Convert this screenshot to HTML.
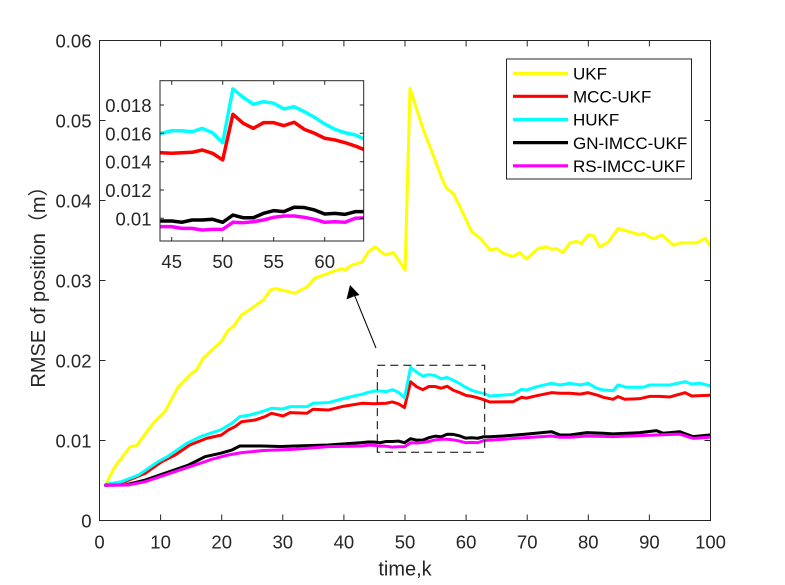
<!DOCTYPE html>
<html><head><meta charset="utf-8"><style>
html,body{margin:0;padding:0;background:#fff;}
svg{display:block;}
text{font-family:"Liberation Sans","Noto Sans CJK SC",sans-serif;fill:#262626;}
</style></head><body>
<svg width="785" height="585" viewBox="0 0 785 585" xmlns="http://www.w3.org/2000/svg">
<defs>
<clipPath id="cm"><rect x="99.5" y="40.5" width="611" height="480"/></clipPath>
<clipPath id="ci"><rect x="160" y="80.7" width="203.7" height="160.3"/></clipPath>
</defs>
<rect x="0" y="0" width="785" height="585" fill="#fff"/>
<rect x="99.5" y="40.5" width="611" height="480" fill="#fff"/>
<!-- main series -->
<g clip-path="url(#cm)">
<g transform="translate(99.5,520.5) scale(6.1,-0.8)" fill="none" stroke-linejoin="round" stroke-linecap="round">
<polyline vector-effect="non-scaling-stroke" stroke="#ffff00" stroke-width="3" points="1,45 2.5,67 5,92 6.1,94 8.8,121.5 10.7,136 12.9,167 15.1,184 15.9,188 17,203 20,224 21.1,238 21.9,242 23.3,257 24.9,265 26.9,276 28,288 28.8,290 30,288 32,284 34,292 35.3,303 37.5,309 39.7,315 40.2,313 41.3,319 43,323 44.1,336 45.2,342 46.8,332 48.2,335 50.1,313 50.9,540 53.1,488 54.2,467 56.1,428 56.9,415 58,409 59.6,384 61,361 62.4,353 64,338 65.1,340 66.2,334 67.8,330 68.9,335 70,327 71.9,340 73.3,342 74.1,339 74.9,340 76,335 77.1,347 78.2,349 79,346 80.1,357 81,356 82,342 83.4,348 85,365 86.9,361 88.6,357 89.1,359 90.8,352 92.2,357 94.1,344 95.2,347 97.9,347 99.3,353 100,344"/>
<polyline vector-effect="non-scaling-stroke" stroke="#ff0000" stroke-width="3" points="1,44 4.2,48.5 7.5,59 10.2,73.5 12.4,81.9 14.8,94.4 17.6,102.8 20,106.9 21.1,113.1 22.2,117.3 23.3,123.5 25.5,125.6 27.1,129.8 28.2,134 30.1,130.6 31.2,134.8 34,134 35,139 37.5,138.1 39.7,142.3 43,146.5 44,146.3 45,145.9 46,146.3 47,146.6 48,148.2 49,145.9 50,141.2 51,173.4 52,167.1 53,163.5 54,167.5 55,167.5 56,165.4 57,167.8 58,162.8 59,160 60,156.5 61,155.3 62,153.4 63,151 64,148.1 67.8,148.5 69.2,154 70,153 71.7,156 74.1,159.8 75.5,159 77.1,159 78.8,158 80.1,159.8 81.5,157 82.6,154 84.2,151.5 85,155 86.1,151.5 88.6,152.3 90.2,155.2 91.8,155.2 93.5,154.4 96,159.8 97.1,155.6 100,156.5"/>
<polyline vector-effect="non-scaling-stroke" stroke="#00ffff" stroke-width="3" points="1,45 3.6,48.5 6.4,56.9 9.6,73.5 11.3,80.6 14.3,96.5 16.8,105.6 19.8,113.1 21.7,121.5 23,129.8 24.7,131.9 26.6,136 28.2,140.3 30.1,139.4 31.2,142.3 34,142.3 35,146.5 37.5,147.3 40.2,152.8 43,157.8 44,160 45,161.8 46,161.8 47,161.1 48,163.5 49,160.4 50,153.4 51,191.3 52,185.4 53,180.5 54,182.3 55,181.2 56,177.2 57,178.8 58,175.3 59,171.3 60,166.6 61,162.8 62,160.4 63,158.8 64,155.6 67.8,157.7 69.2,164 70,163 71.7,167.3 74.1,171.5 75.5,169.4 77.1,171.5 78.8,169.4 80.1,171.5 81.5,165.2 82.6,163.1 84.2,162.3 85,169.4 86.4,166.5 89.1,166.5 90.2,169.4 93.5,169.4 96,173.5 97.1,170.6 98.5,171.5 100,168.5"/>
<polyline vector-effect="non-scaling-stroke" stroke="#000000" stroke-width="3" points="1,44 4.2,44.4 7.5,50.6 10.7,59 14.6,69.4 17.3,79.8 19.8,84 21.7,88.1 23,93.1 26.6,93.1 29.8,92.5 32,93.1 37.5,94.4 43,97.3 44,98.1 45,98.1 46,97.2 47,98.8 48,98.8 49,99.3 50,97.2 51,102.3 52,100.4 53,100.4 54,103.5 55,105.4 56,104.7 57,107.8 58,107.6 59,105.9 60,103 61,103.5 62,102.8 63,104.7 64,104.7 66.2,105.6 69.5,107.7 74.1,111 75.5,106.9 77.1,106.9 79.9,109.8 82.6,109 84.2,108.3 88.6,109.8 91.3,112.3 92.4,109 95.1,111 97.3,104.8 100,106.9"/>
<polyline vector-effect="non-scaling-stroke" stroke="#ff00ff" stroke-width="3" points="1,44 4.7,44.4 7.5,48.5 10.2,55.6 14,65.2 16.8,72.3 18.4,76.5 21.1,81.9 23.3,84.8 26.6,87.3 32,89 37.5,92.3 43,93.1 44,94.1 45,94.1 46,92.9 47,92.9 48,91.7 49,92.2 50,92.2 51,97.2 52,96.9 53,97.6 54,98.8 55,100.7 56,101.6 57,101.6 58,100.7 59,99.3 60,97.2 61,97.6 62,97.2 63,100 64,100.4 66.2,101.5 69.5,103.5 74.1,105.6 75.5,104 77.1,104 79.9,105.6 84.2,104.8 91.3,106.9 95.1,108 97.3,102.7 100,104"/>
</g>
</g>
<!-- main axes box and ticks -->
<g stroke="#262626" stroke-width="1" fill="none">
<rect x="99.5" y="40.5" width="611" height="480"/>
<path d="M160.6,520.5v-6M221.7,520.5v-6M282.8,520.5v-6M343.9,520.5v-6M405,520.5v-6M466.1,520.5v-6M527.2,520.5v-6M588.3,520.5v-6M649.4,520.5v-6
M160.6,40.5v6M221.7,40.5v6M282.8,40.5v6M343.9,40.5v6M405,40.5v6M466.1,40.5v6M527.2,40.5v6M588.3,40.5v6M649.4,40.5v6
M99.5,440.5h6M99.5,360.5h6M99.5,280.5h6M99.5,200.5h6M99.5,120.5h6
M710.5,440.5h-6M710.5,360.5h-6M710.5,280.5h-6M710.5,200.5h-6M710.5,120.5h-6"/>
</g>
<g font-size="18.5" text-anchor="end">
<text x="91.5" y="527.5">0</text>
<text x="91.5" y="447.5">0.01</text>
<text x="91.5" y="367.5">0.02</text>
<text x="91.5" y="287.5">0.03</text>
<text x="91.5" y="207.5">0.04</text>
<text x="91.5" y="127.5">0.05</text>
<text x="91.5" y="47.5">0.06</text>
</g>
<g font-size="18.5" text-anchor="middle">
<text x="99.5" y="548.5">0</text>
<text x="160.6" y="548.5">10</text>
<text x="221.7" y="548.5">20</text>
<text x="282.8" y="548.5">30</text>
<text x="343.9" y="548.5">40</text>
<text x="405" y="548.5">50</text>
<text x="466.1" y="548.5">60</text>
<text x="527.2" y="548.5">70</text>
<text x="588.3" y="548.5">80</text>
<text x="649.4" y="548.5">90</text>
<text x="710.5" y="548.5">100</text>
</g>
<text x="405" y="575.5" font-size="20" text-anchor="middle">time,k</text>
<text transform="translate(45,282) rotate(-90)" font-size="20" text-anchor="middle">RMSE of position（m）</text>
<!-- dashed zoom box and arrow -->
<rect x="377.3" y="365.3" width="107.4" height="87" fill="none" stroke="#000" stroke-width="1" stroke-dasharray="8,5"/>
<line x1="376" y1="348" x2="354" y2="294" stroke="#000" stroke-width="1"/>
<polygon points="350,285 346.5,299.5 353.5,296.5 359.5,295" fill="#000"/>
<!-- legend -->
<rect x="506.5" y="59" width="185" height="120" fill="#fff" stroke="#262626" stroke-width="1"/>
<g stroke-width="3.2">
<line x1="513" y1="73.3" x2="568" y2="73.3" stroke="#ffff00"/>
<line x1="513" y1="96.3" x2="568" y2="96.3" stroke="#ff0000"/>
<line x1="513" y1="119.5" x2="568" y2="119.5" stroke="#00ffff"/>
<line x1="513" y1="142.6" x2="568" y2="142.6" stroke="#000000"/>
<line x1="513" y1="165.8" x2="568" y2="165.8" stroke="#ff00ff"/>
</g>
<g font-size="17">
<text x="573" y="79.5" style="fill:#000">UKF</text>
<text x="573" y="102.5" style="fill:#000">MCC-UKF</text>
<text x="573" y="125.7" style="fill:#000">HUKF</text>
<text x="573" y="148.8" style="fill:#000">GN-IMCC-UKF</text>
<text x="573" y="172" style="fill:#000">RS-IMCC-UKF</text>
</g>
<!-- inset -->
<rect x="160" y="80.7" width="203.7" height="160.3" fill="#fff"/>
<g clip-path="url(#ci)">
<g transform="translate(-287.3,359.97) scale(10.2,-1.4167)" fill="none" stroke-linejoin="round" stroke-linecap="round">
<polyline vector-effect="non-scaling-stroke" stroke="#ffff00" stroke-width="3.5" points="40.2,313 41.3,319 43,323 44.1,336 45.2,342 46.8,332 48.2,335 50.1,313 50.9,540 53.1,488 54.2,467 56.1,428 56.9,415 58,409 59.6,384 61,361 62.4,353 64,338 65.1,340"/>
<polyline vector-effect="non-scaling-stroke" stroke="#ff0000" stroke-width="3.5" points="39.7,142.3 43,146.5 44,146.3 45,145.9 46,146.3 47,146.6 48,148.2 49,145.9 50,141.2 51,173.4 52,167.1 53,163.5 54,167.5 55,167.5 56,165.4 57,167.8 58,162.8 59,160 60,156.5 61,155.3 62,153.4 63,151 64,148.1 67.8,148.5"/>
<polyline vector-effect="non-scaling-stroke" stroke="#00ffff" stroke-width="3.5" points="40.2,152.8 43,157.8 44,160 45,161.8 46,161.8 47,161.1 48,163.5 49,160.4 50,153.4 51,191.3 52,185.4 53,180.5 54,182.3 55,181.2 56,177.2 57,178.8 58,175.3 59,171.3 60,166.6 61,162.8 62,160.4 63,158.8 64,155.6 67.8,157.7"/>
<polyline vector-effect="non-scaling-stroke" stroke="#000000" stroke-width="3.5" points="37.5,94.4 43,97.3 44,98.1 45,98.1 46,97.2 47,98.8 48,98.8 49,99.3 50,97.2 51,102.3 52,100.4 53,100.4 54,103.5 55,105.4 56,104.7 57,107.8 58,107.6 59,105.9 60,103 61,103.5 62,102.8 63,104.7 64,104.7 66.2,105.6"/>
<polyline vector-effect="non-scaling-stroke" stroke="#ff00ff" stroke-width="3.5" points="37.5,92.3 43,93.1 44,94.1 45,94.1 46,92.9 47,92.9 48,91.7 49,92.2 50,92.2 51,97.2 52,96.9 53,97.6 54,98.8 55,100.7 56,101.6 57,101.6 58,100.7 59,99.3 60,97.2 61,97.6 62,97.2 63,100 64,100.4 66.2,101.5"/>
</g>
</g>
<g stroke="#262626" stroke-width="1" fill="none">
<rect x="160" y="80.7" width="203.7" height="160.3"/>
<path d="M171.7,241v-4M222.7,241v-4M273.7,241v-4M324.7,241v-4
M171.7,80.7v4M222.7,80.7v4M273.7,80.7v4M324.7,80.7v4
M160,105h4M160,133.3h4M160,161.7h4M160,190h4M160,218.3h4
M363.7,105h-4M363.7,133.3h-4M363.7,161.7h-4M363.7,190h-4M363.7,218.3h-4"/>
</g>
<g font-size="18.5" text-anchor="end">
<text x="151.5" y="112">0.018</text>
<text x="151.5" y="140.3">0.016</text>
<text x="151.5" y="168.7">0.014</text>
<text x="151.5" y="197">0.012</text>
<text x="151.5" y="225.3">0.01</text>
</g>
<g font-size="18.5" text-anchor="middle">
<text x="171.7" y="268">45</text>
<text x="222.7" y="268">50</text>
<text x="273.7" y="268">55</text>
<text x="324.7" y="268">60</text>
</g>
</svg>
</body></html>
